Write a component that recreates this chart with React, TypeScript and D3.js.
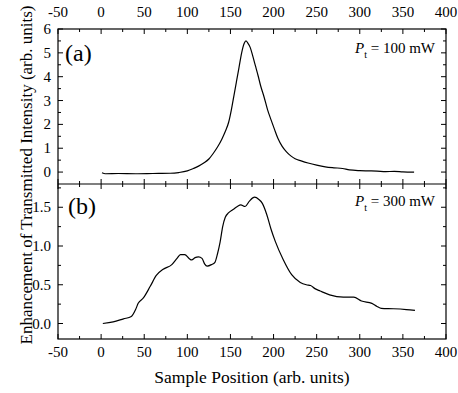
import React from "react";
import * as d3 from "d3";

const xTicks = [-50, 0, 50, 100, 150, 200, 250, 300, 350, 400];
const yTicksA = [0, 1, 2, 3, 4, 5, 6];
const yTicksB = [0, 0.5, 1.0, 1.5];

// Panel (a): P_t = 100 mW
const seriesA: [number, number][] = [
  [1, -0.03], [5, -0.07], [20, -0.06], [40, -0.07], [60, -0.06], [80, -0.05], [90, -0.02],
  [100, 0.05], [107, 0.15], [113, 0.25], [119, 0.38], [125, 0.55], [130, 0.78], [135, 1.05],
  [140, 1.38], [144, 1.7], [148, 2.1], [151, 2.6], [154, 3.2], [157, 3.8], [160, 4.4],
  [163, 5.0], [166, 5.4], [168, 5.5], [170, 5.42], [173, 5.22], [176, 4.85], [179, 4.45],
  [182, 4.05], [185, 3.62], [189, 3.15], [193, 2.62], [197, 2.2], [201, 1.8], [205, 1.42],
  [210, 1.08], [215, 0.85], [220, 0.68], [225, 0.56], [232, 0.47], [240, 0.38], [250, 0.29],
  [260, 0.22], [270, 0.18], [280, 0.15], [288, 0.09], [300, 0.06], [310, 0.05], [320, 0.04],
  [330, 0.02], [340, 0.03], [350, 0.01], [363, 0.0],
];

// Panel (b): P_t = 300 mW
const seriesB: [number, number][] = [
  [2, 0.0], [14, 0.02], [26, 0.06], [35, 0.09], [40, 0.18], [43, 0.26], [49, 0.33],
  [57, 0.48], [64, 0.62], [72, 0.7], [82, 0.76], [88, 0.84], [92, 0.89], [97, 0.89],
  [102, 0.84], [105, 0.82], [109, 0.85], [113, 0.86], [117, 0.84], [120, 0.77], [123, 0.74],
  [128, 0.76], [132, 0.79], [135, 0.9], [138, 1.05], [141, 1.25], [144, 1.37], [148, 1.43],
  [153, 1.47], [158, 1.51], [162, 1.53], [167, 1.51], [172, 1.58], [178, 1.63], [183, 1.6],
  [187, 1.55], [192, 1.41], [197, 1.22], [202, 1.06], [211, 0.83], [221, 0.63], [231, 0.53],
  [238, 0.5], [243, 0.49], [248, 0.45], [254, 0.42], [265, 0.37], [281, 0.34], [293, 0.34],
  [302, 0.29], [314, 0.26], [320, 0.22], [325, 0.195], [339, 0.19], [354, 0.18], [364, 0.17],
];

const W = 458;
const H = 393;
const left = 58;
const right = 446;
const topA = 29;
const mid = 184;
const bottomB = 339;
const FF = "Liberation Serif";

export default function App() {
  const x = d3.scaleLinear().domain([-50, 400]).range([left, right]);
  const yA = d3.scaleLinear().domain([-0.5, 6]).range([mid, topA]);
  const yB = d3.scaleLinear().domain([-0.2, 1.8]).range([bottomB, mid]);

  const lineA = d3.line<[number, number]>().x((d) => x(d[0])).y((d) => yA(d[1])).curve(d3.curveMonotoneX);
  const lineB = d3.line<[number, number]>().x((d) => x(d[0])).y((d) => yB(d[1])).curve(d3.curveMonotoneX);

  const xMinor = d3.range(-25, 400, 50);
  const yMinorA = d3.range(0.5, 6, 1);
  const yMinorB = d3.range(0.25, 1.8, 0.5);
  const major = 5;
  const minor = 3;

  const vTicks = (vals: number[], y0: number, dir: number, len: number, key: string) =>
    vals.map((v) => (
      <line key={key + v} x1={x(v)} x2={x(v)} y1={y0} y2={y0 + dir * len} stroke="#000" strokeWidth={1} />
    ));
  const hTicks = (vals: number[], sc: d3.ScaleLinear<number, number>, key: string) =>
    vals.flatMap((v) => {
      const len = key.includes("min") ? minor : major;
      return [
        <line key={key + "l" + v} x1={left} x2={left + len} y1={sc(v)} y2={sc(v)} stroke="#000" strokeWidth={1} />,
        <line key={key + "r" + v} x1={right} x2={right - len} y1={sc(v)} y2={sc(v)} stroke="#000" strokeWidth={1} />,
      ];
    });

  return (
    <svg width={W} height={H} fontFamily={FF} style={{ position: "absolute", left: 0, top: 0, background: "#fff" }}>
      <rect x={0} y={0} width={W} height={H} fill="#fff" />
      <rect x={left} y={topA} width={right - left} height={bottomB - topA} fill="none" stroke="#000" strokeWidth={1.2} />
      <line x1={left} x2={right} y1={mid} y2={mid} stroke="#000" strokeWidth={1.2} />

      {vTicks(xTicks, topA, 1, major, "ta")}
      {vTicks(xMinor, topA, 1, minor, "tam")}
      {vTicks(xTicks, mid, -1, major, "ma")}
      {vTicks(xMinor, mid, -1, minor, "mam")}
      {vTicks(xTicks, mid, 1, major, "mb")}
      {vTicks(xMinor, mid, 1, minor, "mbm")}
      {vTicks(xTicks, bottomB, -1, major, "bb")}
      {vTicks(xMinor, bottomB, -1, minor, "bbm")}

      {hTicks(yTicksA, yA, "ya")}
      {hTicks(yMinorA, yA, "ya-min")}
      {hTicks(yTicksB, yB, "yb")}
      {hTicks(yMinorB, yB, "yb-min")}

      {xTicks.map((v) => (
        <text key={"xt" + v} fontFamily={FF} x={x(v)} y={17} fontSize={15} textAnchor="middle">{String(v)}</text>
      ))}
      {xTicks.map((v) => (
        <text key={"xb" + v} fontFamily={FF} x={x(v)} y={357} fontSize={15} textAnchor="middle">{String(v)}</text>
      ))}

      {yTicksA.map((v) => (
        <text key={"yla" + v} fontFamily={FF} x={51} y={yA(v) + 5} fontSize={15} textAnchor="end">{String(v)}</text>
      ))}
      {yTicksB.map((v) => (
        <text key={"ylb" + v} fontFamily={FF} x={51} y={yB(v) + 5} fontSize={15} textAnchor="end">{v.toFixed(1)}</text>
      ))}

      <path d={lineA(seriesA) || ""} fill="none" stroke="#000" strokeWidth={1.2} />
      <path d={lineB(seriesB) || ""} fill="none" stroke="#000" strokeWidth={1.2} />

      <text fontFamily={FF} x={65} y={61} fontSize={24}>(a)</text>
      <text fontFamily={FF} x={68} y={214} fontSize={24}>(b)</text>
      <text fontFamily={FF} x={435} y={53} fontSize={15} textAnchor="end">
        <tspan fontStyle="italic">P</tspan>
        <tspan fontSize={10} dy={5}>t</tspan>
        <tspan dy={-5}> = 100 mW</tspan>
      </text>
      <text fontFamily={FF} x={435} y={206} fontSize={15} textAnchor="end">
        <tspan fontStyle="italic">P</tspan>
        <tspan fontSize={10} dy={5}>t</tspan>
        <tspan dy={-5}> = 300 mW</tspan>
      </text>

      <text fontFamily={FF} x={252} y={383} fontSize={17.5} textAnchor="middle">Sample Position (arb. units)</text>
      <text fontFamily={FF} transform={`translate(32, 175) rotate(-90)`} fontSize={17} textAnchor="middle">
        Enhancement of Transmitted Intensity (arb. units)
      </text>
    </svg>
  );
}
